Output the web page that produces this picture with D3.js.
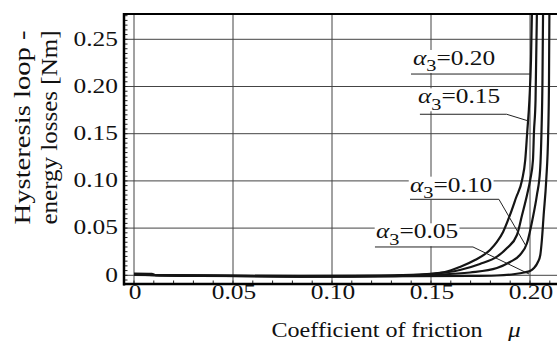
<!DOCTYPE html>
<html>
<head>
  <meta charset="utf-8">
  <style>
    body { margin: 0; background: #fff; }
    text { font-family: "Liberation Serif", "Times New Roman", serif; fill: #111; }
  </style>
</head>
<body>
<div id="chartContainer"></div>
<script src="https://d3js.org/d3.v7.min.js"></script>
<script type="text/javascript">
  // tick values and labels
  var muTicks = [0, 0.05, 0.10, 0.15, 0.20];
  var muTickLabels = ["0", "0.05", "0.10", "0.15", "0.20"];
  var eTicks = [0, 0.05, 0.10, 0.15, 0.20, 0.25];
  var eTickLabels = ["0", "0.05", "0.10", "0.15", "0.20", "0.25"];

  // one curve per alpha_3
  var alphas = ["0.20", "0.15", "0.10", "0.05"];

  var mu020 = [0, 0.009, 0.011, 0.084, 0.124, 0.144, 0.157, 0.1646, 0.1722, 0.1798, 0.1833, 0.1864, 0.1899, 0.1929, 0.196, 0.1976, 0.1986, 0.1997, 0.2005, 0.201];
  var e020  = [0.0019, 0.0016, 0.0001, -0.0007, -0.0002, 0.0008, 0.0035, 0.0088, 0.0162, 0.0268, 0.0353, 0.0459, 0.0639, 0.0819, 0.101, 0.1222, 0.1518, 0.1857, 0.2281, 0.28];

  var mu015 = [0, 0.013, 0.084, 0.124, 0.1495, 0.1646, 0.1747, 0.1833, 0.1884, 0.1934, 0.196, 0.1985, 0.2001, 0.2015, 0.202, 0.2028, 0.2035];
  var e015  = [0.0014, 0, -0.0013, -0.0007, 0.0014, 0.0056, 0.012, 0.0197, 0.0289, 0.0427, 0.0639, 0.0851, 0.101, 0.1221, 0.1518, 0.1857, 0.28];

  var mu010 = [0, 0.0333, 0.1091, 0.1545, 0.1697, 0.1833, 0.1899, 0.1949, 0.1985, 0.2012, 0.2035, 0.2051, 0.2058, 0.2063, 0.2066];
  var e010  = [0.0008, -0.0007, -0.0013, 0.0008, 0.003, 0.0077, 0.0141, 0.0215, 0.0342, 0.0586, 0.0851, 0.1115, 0.1518, 0.2069, 0.28];

  var mu005 = [0, 0.0838, 0.1697, 0.1833, 0.1924, 0.197, 0.2, 0.202, 0.204, 0.2052, 0.206, 0.2069, 0.2082, 0.2092, 0.2096, 0.2098];
  var e005  = [0.0003, -0.0013, -0.0007, -0.0002, 0.0014, 0.003, 0.0046, 0.0077, 0.0141, 0.0215, 0.0374, 0.0639, 0.101, 0.1518, 0.2069, 0.28];

  var curveMu = [mu020, mu015, mu010, mu005];
  var curveE = [e020, e015, e010, e005];

  // label anchors (mu, E): text start, then leader line points
  var labelText = [[0.1409, 0.2228], [0.1434, 0.1822], [0.1394, 0.0886], [0.1222, 0.0392]];
  var labelLeader = [
    [[0.1399, 0.2132], [0.2001, 0.2132]],
    [[0.1444, 0.1706], [0.1882, 0.1706], [0.1992, 0.1635]],
    [[0.1394, 0.0805], [0.1843, 0.0805], [0.1980, 0.0310]],
    [[0.1217, 0.0300], [0.1712, 0.0300], [0.1995, 0.0014]]
  ];

  var W = 557, H = 341;
  var sx = 1.27; // glyphs in the picture are stretched sideways

  var svg = d3.select("#chartContainer").append("svg")
    .attr("width", W).attr("height", H);

  var x = d3.scaleLinear().domain([0, 0.20]).range([134, 530]);
  var y = d3.scaleLinear().domain([0, 0.25]).range([275.3, 39.3]);

  var pLeft = 124, pTop = 14, pRight = W + 2, pBottom = 284;

  svg.append("clipPath").attr("id", "plotclip")
    .append("rect").attr("x", pLeft).attr("y", pTop)
    .attr("width", pRight - pLeft).attr("height", pBottom - pTop);

  // grid
  svg.selectAll("line.gx").data(muTicks).enter().append("line")
    .attr("x1", function (d) { return x(d); }).attr("x2", function (d) { return x(d); })
    .attr("y1", pTop).attr("y2", pBottom)
    .attr("stroke", "#444").attr("stroke-width", 1);
  svg.selectAll("line.gy").data(eTicks).enter().append("line")
    .attr("x1", pLeft).attr("x2", pRight)
    .attr("y1", function (d) { return y(d); }).attr("y2", function (d) { return y(d); })
    .attr("stroke", "#444").attr("stroke-width", 1);

  // minor ticks
  var xMinor = d3.range(0, 0.2101, 0.01);
  svg.selectAll("line.mx").data(xMinor).enter().append("line")
    .attr("x1", function (d) { return x(d); }).attr("x2", function (d) { return x(d); })
    .attr("y1", pBottom).attr("y2", pBottom - 3.5)
    .attr("stroke", "#222").attr("stroke-width", 1);
  var yMinor = d3.range(-0.005, 0.2751, 0.005);
  svg.selectAll("line.my").data(yMinor).enter().append("line")
    .attr("x1", pLeft).attr("x2", pLeft + 3.5)
    .attr("y1", function (d) { return y(d); }).attr("y2", function (d) { return y(d); })
    .attr("stroke", "#222").attr("stroke-width", 1);

  // curves
  var line = d3.line()
    .x(function (d) { return x(d[0]); })
    .y(function (d) { return y(d[1]); })
    .curve(d3.curveMonotoneX);

  var plot = svg.append("g").attr("clip-path", "url(#plotclip)");
  curveMu.forEach(function (mus, i) {
    var pts = mus.map(function (m, j) { return [m, curveE[i][j]]; });
    plot.append("path").datum(pts)
      .attr("d", line)
      .attr("fill", "none")
      .attr("stroke", "#151515")
      .attr("stroke-width", 2.2);
  });

  // curve labels
  alphas.forEach(function (a, i) {
    var g = svg.append("g")
      .attr("transform", "translate(" + x(labelText[i][0]) + "," + y(labelText[i][1]) + ") scale(" + sx + ",1)");
    var bg = g.append("rect").attr("fill", "#fff");
    var t = g.append("text").attr("x", 0).attr("y", 0).style("font-size", "20px");
    t.append("tspan").text("\u03b1").style("font-style", "italic");
    t.append("tspan").text("3").attr("dy", 6.5).style("font-size", "16px");
    t.append("tspan").text("=" + a).attr("dy", -6.5);
    var bb = t.node().getBBox();
    bg.attr("x", bb.x - 1).attr("y", -15).attr("width", bb.width + 2).attr("height", 23);

    svg.append("path")
      .datum(labelLeader[i])
      .attr("d", d3.line().x(function (d) { return x(d[0]); }).y(function (d) { return y(d[1]); }))
      .attr("fill", "none").attr("stroke", "#222").attr("stroke-width", 1);
  });

  // frame
  svg.append("line").attr("x1", pLeft).attr("x2", pLeft).attr("y1", pTop - 1).attr("y2", pBottom + 1.5)
    .attr("stroke", "#000").attr("stroke-width", 2.5);
  svg.append("line").attr("x1", pLeft - 1).attr("x2", pRight).attr("y1", pBottom).attr("y2", pBottom)
    .attr("stroke", "#000").attr("stroke-width", 2.5);
  svg.append("line").attr("x1", pLeft - 1).attr("x2", pRight).attr("y1", pTop).attr("y2", pTop)
    .attr("stroke", "#000").attr("stroke-width", 2);

  // tick labels
  muTicks.forEach(function (d, i) {
    svg.append("text")
      .attr("transform", "translate(" + (x(d) + 1) + ",299) scale(" + sx + ",1)")
      .attr("text-anchor", "middle")
      .style("font-size", "20px")
      .text(muTickLabels[i]);
  });
  eTicks.forEach(function (d, i) {
    svg.append("text")
      .attr("transform", "translate(118," + (y(d) + 6.3) + ") scale(" + sx + ",1)")
      .attr("text-anchor", "end")
      .style("font-size", "20px")
      .text(eTickLabels[i]);
  });

  // axis titles
  svg.append("text")
    .attr("x", 271.5).attr("y", 337)
    .attr("textLength", 211)
    .attr("lengthAdjust", "spacingAndGlyphs")
    .style("font-size", "20px")
    .text("Coefficient of friction");
  svg.append("text")
    .attr("transform", "translate(508,337) scale(" + sx + ",1)")
    .style("font-size", "20px").style("font-style", "italic")
    .text("\u03bc");

  svg.selectAll("text.ytitle")
    .data(["Hysteresis loop -", "energy losses [Nm]"])
    .enter()
    .append("text")
      .attr("transform", function (d, i) { return "translate(" + (29.5 + i * 27.5) + ",127.5) rotate(-90) scale(1,1.2)"; })
      .attr("text-anchor", "middle")
      .attr("textLength", 194)
      .attr("lengthAdjust", "spacingAndGlyphs")
      .style("font-size", "20px")
      .text(function (d) { return d; });
</script>
</body>
</html>
